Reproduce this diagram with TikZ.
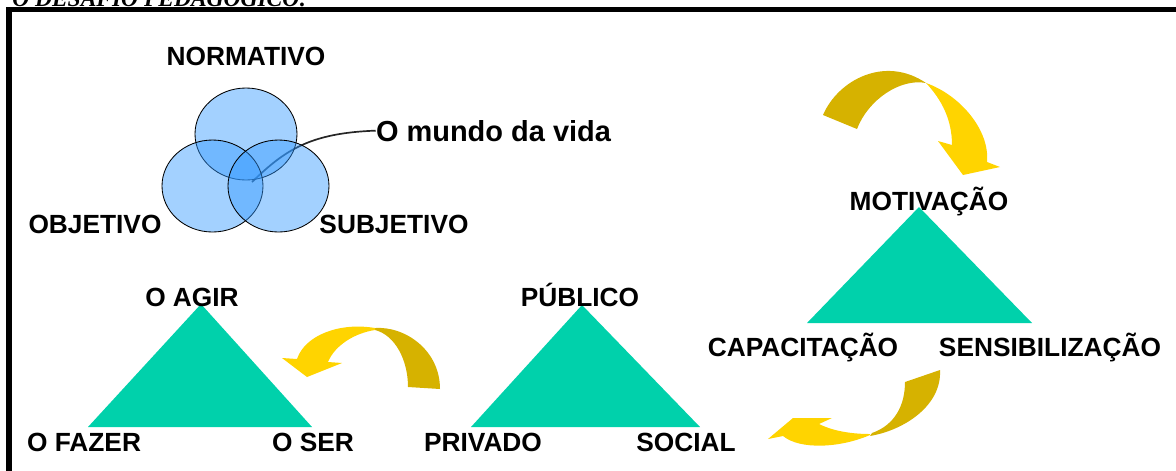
\documentclass[tikz,border=0pt]{standalone}
\usepackage{fontspec}
\usepackage{xcolor}
\setmainfont{Liberation Sans}
\newfontfamily\titlefont{Liberation Serif}
\definecolor{verde}{RGB}{0,209,171}
\definecolor{ouro}{RGB}{214,178,0}
\definecolor{amarelo}{RGB}{255,212,0}
\definecolor{azul}{RGB}{51,153,255}

\begin{document}
\begin{tikzpicture}[x=0.025cm, y=-0.025cm, lbl/.style={anchor=base, inner sep=0pt, font=\fontsize{18.7}{20}\selectfont\bfseries}, conj/.style={fill=azul, fill opacity=0.45, draw=black, line width=0.6pt}]
	\useasboundingbox (0,0) rectangle (1176,470);
	\clip (0,0) rectangle (1176,470);
	\node[anchor=base west, inner sep=0pt, font=\titlefont\fontsize{16.7}{18}\selectfont\bfseries\itshape] (titulo) at (12,6.5) {O DESAFIO PEDAGÓGICO:};
	\draw[line width=3.6pt] (9,9.5) rectangle (1200,500);
	\coordinate (centro) at (252,182);
	\node[lbl, font=\fontsize{20.6}{22}\selectfont\bfseries] (mundo) at (493.5,141) {O mundo da vida};
	\draw[line width=1.2pt, black!85] (mundo.west) .. controls (310,133) and (285,150) .. (centro);
	\draw[conj] (246,134) ellipse [x radius=51, y radius=46];
	\draw[conj] (212.5,186) ellipse [x radius=50.5, y radius=46];
	\draw[conj] (278.5,186) ellipse [x radius=50.5, y radius=46];
	\node[lbl] (nor) at (246,65.5) {NORMATIVO};
	\node[lbl] (obj) at (95,233) {OBJETIVO};
	\node[lbl] (sub) at (394,233) {SUBJETIVO};
	\coordinate (ma) at (919,207);
	\coordinate (mb) at (807,323);
	\coordinate (mc) at (1032,323);
	\coordinate (aa) at (201,304);
	\coordinate (ab) at (88,427);
	\coordinate (ac) at (312,427);
	\coordinate (pa) at (582,305);
	\coordinate (pb) at (471,427);
	\coordinate (pc) at (700,427);
	\fill[verde] (ma) -- (mb) -- (mc) -- cycle;
	\fill[verde] (aa) -- (ab) -- (ac) -- cycle;
	\fill[verde] (pa) -- (pb) -- (pc) -- cycle;
	\node[lbl] (mot) at (929,210) {MOTIVAÇÃO};
	\node[lbl] (cap) at (803,356) {CAPACITAÇÃO};
	\node[lbl] (sen) at (1050,356) {SENSIBILIZAÇÃO};
	\node[lbl] (agir) at (192,306) {O AGIR};
	\node[lbl] (faz) at (84,451) {O FAZER};
	\node[lbl] (ser) at (313,451) {O SER};
	\node[lbl] (pub) at (580,306) {PÚBLICO};
	\node[lbl] (pri) at (483,451) {PRIVADO};
	\node[lbl] (soc) at (686,451) {SOCIAL};
	\fill[ouro] (823,115) .. controls (838,80) and (885,55) .. (926,83) .. controls (900,78) and (868,100) .. (857,129) -- cycle;
	\fill[amarelo] (926,83) .. controls (960,95) and (990,130) .. (987,162) -- (1000,167) -- (963,175) -- (938,141) -- (952,145) .. controls (952,120) and (942,100) .. (926,83) -- cycle;
	\fill[ouro] (375,328) .. controls (405,326) and (440,350) .. (440,389) -- (408,387) .. controls (408,360) and (395,335) .. (375,330) -- cycle;
	\fill[amarelo] (375,328) .. controls (340,322) and (305,335) .. (297,359) -- (282,358) -- (307,377) -- (342,363) -- (328,362) .. controls (335,345) and (355,333) .. (375,330) -- cycle;
	\fill[ouro] (940,370) .. controls (942,405) and (905,430) .. (870,436) -- (872,433) .. controls (895,425) and (905,405) .. (905,382) -- cycle;
	\fill[amarelo] (870,435) .. controls (840,448) and (800,450) .. (783,436) -- (768,439) -- (793,418) -- (832,418) -- (819,424) .. controls (835,432) and (855,434) .. (870,434) -- cycle;
\end{tikzpicture}
\end{document}
